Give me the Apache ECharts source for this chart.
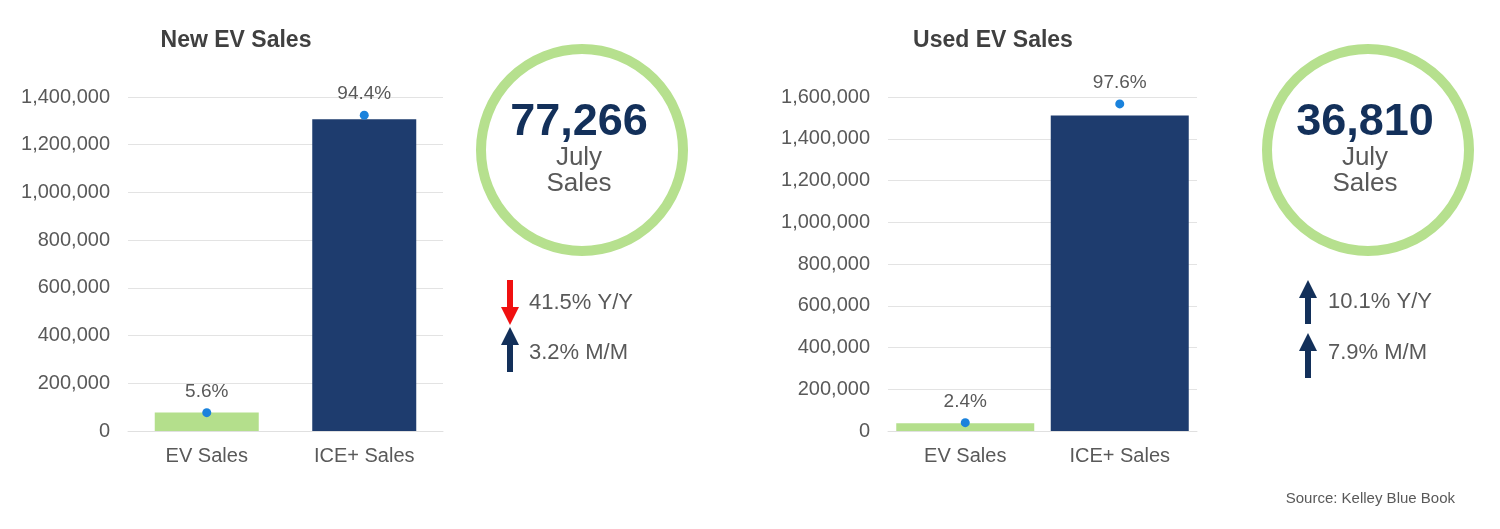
<!DOCTYPE html>
<html>
<head>
<meta charset="utf-8">
<script src="https://cdn.jsdelivr.net/npm/echarts@6/dist/echarts.min.js"></script>
<style>
    html, body { margin: 0; padding: 0; background: #fff; }
    #main { width: 1500px; height: 529px; }
</style>
</head>
<body>
<div id="main"></div>
<script type="text/javascript">
    // data
    var categories = ['EV Sales', 'ICE+ Sales'];
    var newSales = [77266, 1307000];
    var newDots = [77000, 1324000];
    var newShares = ['5.6%', '94.4%'];
    var usedSales = [36810, 1511000];
    var usedDots = [40000, 1567000];
    var usedShares = ['2.4%', '97.6%'];
    var newTotal = '77,266';
    var usedTotal = '36,810';
    var newChanges = [{ text: '41.5% Y/Y', dir: 'down' }, { text: '3.2% M/M', dir: 'up' }];
    var usedChanges = [{ text: '10.1% Y/Y', dir: 'up' }, { text: '7.9% M/M', dir: 'up' }];

    var font = '"Liberation Sans", Arial, sans-serif';
    var green = '#b4df8c';
    var navy = '#1e3c6e';
    var grey = '#595959';

    function barData(vals) {
        return vals.map(function (v, i) {
            return { value: v, itemStyle: { color: i == 0 ? green : navy } };
        });
    }

    function dotData(vals, labels) {
        return vals.map(function (v, i) {
            return { value: v, label: { formatter: labels[i] } };
        });
    }

    //箭头
    function arrow(cx, top, bottom, dir, color) {
        var s = 3, h = 9, head = 18;
        var pts;
        if (dir == 'up') {
            pts = [[cx, top], [cx + h, top + head], [cx + s, top + head], [cx + s, bottom],
                [cx - s, bottom], [cx - s, top + head], [cx - h, top + head]];
        } else {
            pts = [[cx, bottom], [cx + h, bottom - head], [cx + s, bottom - head], [cx + s, top],
                [cx - s, top], [cx - s, bottom - head], [cx - h, bottom - head]];
        }
        return { type: 'polygon', shape: { points: pts }, style: { fill: color } };
    }

    function kpi(cx, total, changes, arrowX, arrowSpans, textX, textYs) {
        var els = [
            { type: 'circle', shape: { cx: cx, cy: 150, r: 101 }, style: { fill: 'none', stroke: '#b6e08e', lineWidth: 10 } },
            { type: 'text', style: { text: total, x: cx - 3, y: 123, align: 'center', verticalAlign: 'middle', fontSize: 45, fontWeight: 'bold', fontFamily: font, fill: '#13305a' } },
            { type: 'text', style: { text: 'July', x: cx - 3, y: 158, align: 'center', verticalAlign: 'middle', fontSize: 26, fontFamily: font, fill: grey } },
            { type: 'text', style: { text: 'Sales', x: cx - 3, y: 184, align: 'center', verticalAlign: 'middle', fontSize: 26, fontFamily: font, fill: grey } }
        ];
        changes.forEach(function (c, i) {
            var col = c.dir == 'down' ? '#f01010' : '#13305a';
            els.push(arrow(arrowX, arrowSpans[i][0], arrowSpans[i][1], c.dir, col));
            els.push({ type: 'text', style: { text: c.text, x: textX, y: textYs[i], align: 'left', verticalAlign: 'middle', fontSize: 22, fontFamily: font, fill: grey } });
        });
        return els;
    }

    var axisLabel = { color: grey, fontSize: 20, fontFamily: font };
    var splitLine = { show: true, lineStyle: { color: '#e3e3e3', width: 1 } };

    function xAxis(idx) {
        return {
            type: 'category', gridIndex: idx, data: categories,
            axisLine: { lineStyle: { color: '#e0e0e0' } }, axisTick: { show: false },
            axisLabel: Object.assign({ margin: 15 }, axisLabel)
        };
    }

    function yAxis(idx, max) {
        return {
            type: 'value', gridIndex: idx, min: 0, max: max, interval: 200000,
            axisLine: { show: false }, axisTick: { show: false }, splitLine: splitLine,
            axisLabel: Object.assign({ margin: 18, formatter: function (v) { return v.toLocaleString('en-US'); } }, axisLabel)
        };
    }

    function dotSeries(idx, vals, labels) {
        return {
            type: 'scatter', xAxisIndex: idx, yAxisIndex: idx, symbolSize: 9, z: 5,
            itemStyle: { color: '#1a82dc', opacity: 1 },
            label: { show: true, position: 'top', distance: 7, color: grey, fontSize: 19, fontFamily: font },
            data: dotData(vals, labels)
        };
    }

    var myChart = echarts.init(document.getElementById('main'));
    var option = {
        backgroundColor: '#fff',
        animation: false,
        title: [
            { text: 'New EV Sales', left: 231, top: 24, textAlign: 'center', textStyle: { fontSize: 23, fontWeight: 'bold', color: '#404040', fontFamily: font } },
            { text: 'Used EV Sales', left: 988, top: 24, textAlign: 'center', textStyle: { fontSize: 23, fontWeight: 'bold', color: '#404040', fontFamily: font } },
            { text: 'Source: Kelley Blue Book', right: 40, top: 486, textStyle: { fontSize: 15, fontWeight: 'normal', color: grey, fontFamily: font } }
        ],
        grid: [
            { left: 128, top: 97, width: 315, height: 334 },
            { left: 888, top: 97, width: 309, height: 334 }
        ],
        xAxis: [xAxis(0), xAxis(1)],
        yAxis: [yAxis(0, 1400000), yAxis(1, 1600000)],
        series: [
            { type: 'bar', xAxisIndex: 0, yAxisIndex: 0, barWidth: 104, data: barData(newSales) },
            { type: 'bar', xAxisIndex: 1, yAxisIndex: 1, barWidth: 138, data: barData(usedSales) },
            dotSeries(0, newDots, newShares),
            dotSeries(1, usedDots, usedShares)
        ],
        graphic: kpi(582, newTotal, newChanges, 510, [[280, 325], [327, 372]], 529, [303, 353])
            .concat(kpi(1368, usedTotal, usedChanges, 1308, [[280, 324], [333, 378]], 1328, [302, 353]))
    };
    myChart.setOption(option);
</script>
</body>
</html>
